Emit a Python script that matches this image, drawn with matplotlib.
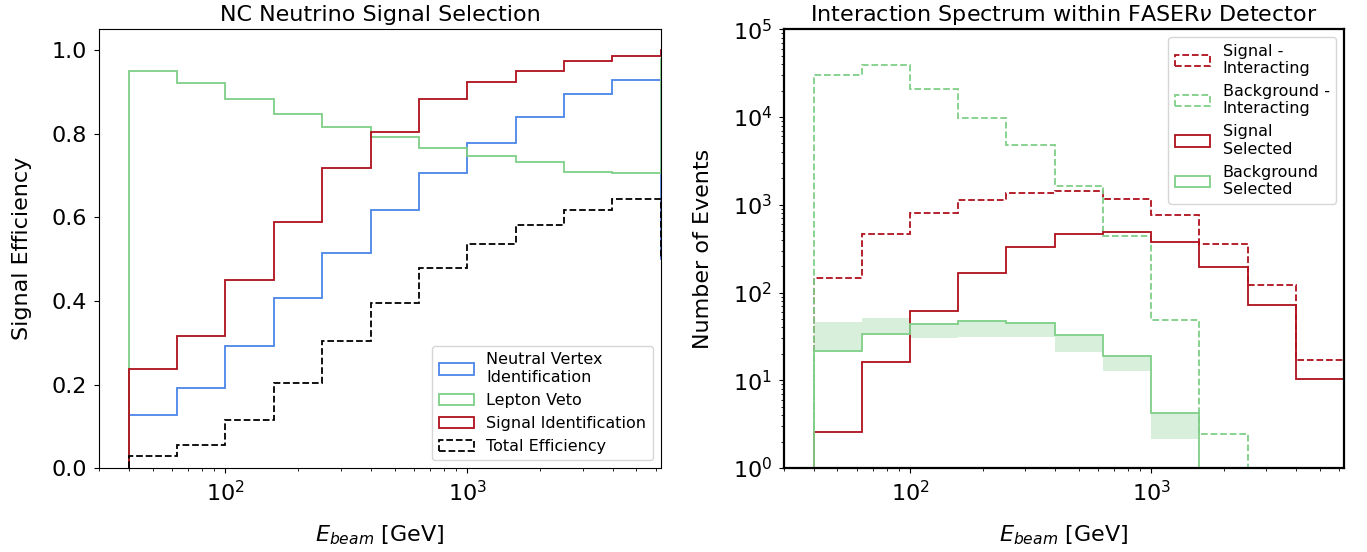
import numpy as np
import matplotlib
matplotlib.use("Agg")
import matplotlib.pyplot as plt

# log-spaced energy bins [GeV]
edges = 10 ** np.arange(1.6, 3.81, 0.2)
edges_eff = 10 ** np.arange(1.6, 4.01, 0.2)   # efficiency has one extra bin past the plot range

# selection efficiencies per bin
eff_vertex = [0.126, 0.192, 0.291, 0.408, 0.514, 0.618, 0.705, 0.778, 0.840, 0.894, 0.929, 0.50]
eff_veto = [0.950, 0.922, 0.884, 0.848, 0.817, 0.792, 0.766, 0.746, 0.732, 0.709, 0.706, 0.98]
eff_signal_id = [0.238, 0.315, 0.451, 0.589, 0.719, 0.805, 0.884, 0.924, 0.950, 0.974, 0.985, 1.0]
eff_total = [0.028, 0.056, 0.116, 0.204, 0.303, 0.394, 0.478, 0.536, 0.582, 0.617, 0.644, 0.50]

# event counts per bin
sig_interacting = [145, 463, 797, 1120, 1380, 1420, 1160, 770, 355, 122, 16.9]
bkg_interacting = [30200, 39300, 20700, 9860, 4820, 1620, 436, 48.8, 2.44, 0, 0]
sig_selected = [2.57, 16.0, 62.3, 169, 327, 463, 484, 372, 194, 72.3, 10.4]
bkg_selected = [21.4, 33.5, 44.3, 47.5, 44.7, 33.2, 19.0, 4.24, 0, 0, 0]
bkg_sel_lo = [21.4, 33.5, 30.7, 31.5, 31.5, 21.1, 12.9, 2.16, 0, 0, 0]
bkg_sel_hi = [46.7, 51.4, 44.3, 47.5, 44.7, 33.2, 19.0, 4.24, 0, 0, 0]

RED = "#b0101c"
BLUE = "#4a86e8"
GREEN = "#7fcf88"
LW = 1.3

plt.rcParams["font.family"] = "DejaVu Sans"
fig = plt.figure(figsize=(13.67, 5.52), dpi=100)
ax1 = fig.add_axes([0.0724, 0.152, 0.411, 0.795])
ax2 = fig.add_axes([0.5735, 0.152, 0.4097, 0.795])

# efficiency panel
centres = edges_eff[:-1]
ax1.hist(centres, bins=edges_eff, weights=eff_vertex, histtype="step", color=BLUE, lw=LW,
         label="Neutral Vertex\nIdentification")
ax1.hist(centres, bins=edges_eff, weights=eff_veto, histtype="step", color=GREEN, lw=LW,
         label="Lepton Veto")
ax1.hist(centres, bins=edges_eff, weights=eff_signal_id, histtype="step", color=RED, lw=LW,
         label="Signal Identification")
ax1.hist(centres, bins=edges_eff, weights=eff_total, histtype="step", color="black", lw=LW,
         ls="--", label="Total Efficiency")
ax1.set_xscale("log")
ax1.set_xlim(30, 10 ** 3.8)
ax1.set_ylim(0, 1.05)
ax1.set_title("NC Neutrino Signal Selection", fontsize=16)
ax1.set_xlabel(r"$E_{beam}$ [GeV]", fontsize=16, labelpad=13)
ax1.set_ylabel("Signal Efficiency", fontsize=16, labelpad=14)
ax1.tick_params(labelsize=16, pad=5)
ax1.legend(loc="lower right", fontsize=11.5, handlelength=2.2, borderaxespad=0.5)

# event spectrum panel
c = edges[:-1]
ax2.set_yscale("log")
ax2.hist(c, bins=edges, weights=sig_interacting, histtype="step", color=RED, lw=LW,
         ls="--", label="Signal -\nInteracting")
ax2.hist(c, bins=edges, weights=bkg_interacting, histtype="step", color=GREEN, lw=LW,
         ls="--", label="Background -\nInteracting")
ax2.hist(c, bins=edges, weights=sig_selected, histtype="step", color=RED, lw=LW,
         label="Signal\nSelected")
ax2.hist(c, bins=edges, weights=bkg_selected, histtype="step", color=GREEN, lw=LW,
         label="Background\nSelected")
lo = np.append(bkg_sel_lo, bkg_sel_lo[-1])
hi = np.append(bkg_sel_hi, bkg_sel_hi[-1])
ax2.fill_between(edges, lo, hi, step="post", color=GREEN, alpha=0.3, lw=0)
ax2.set_xscale("log")
ax2.set_xlim(30, 10 ** 3.8)
ax2.set_ylim(1, 1e5)
ax2.set_title(r"Interaction Spectrum within FASER$\nu$ Detector", fontsize=16)
ax2.set_xlabel(r"$E_{beam}$ [GeV]", fontsize=16, labelpad=13)
ax2.set_ylabel("Number of Events", fontsize=16, labelpad=14)
ax2.tick_params(labelsize=16, pad=5)
for s in ax2.spines.values():
    s.set_linewidth(1.6)
ax2.legend(loc="upper right", fontsize=11.5, handlelength=2.2, labelspacing=0.5)

fig.savefig("out.png", dpi=100)
